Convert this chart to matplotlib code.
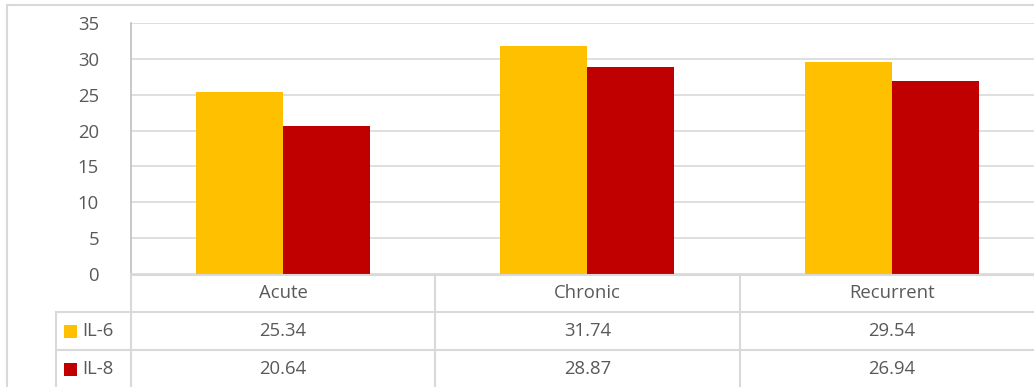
import matplotlib.pyplot as plt
from matplotlib.lines import Line2D
from matplotlib.patches import Rectangle
import numpy as np

plt.rcParams['font.family'] = ['Open Sans', 'DejaVu Sans']

categories = ["Acute", "Chronic", "Recurrent"]
series_names = ["IL-6", "IL-8"]
il6 = [25.34, 31.74, 29.54]
il8 = [20.64, 28.87, 26.94]
colors = ["#FFC000", "#C00000"]

W, H = 1034, 387
fig = plt.figure(figsize=(W / 100, H / 100), dpi=100)

# plot area in pixels (extends past the right edge like the original sheet crop)
px_left, px_top, px_bottom = 131, 23, 274
cat_w = 304.3
px_right = px_left + 3 * cat_w
ax = fig.add_axes([px_left / W, 1 - px_bottom / H,
                   (px_right - px_left) / W, (px_bottom - px_top) / H])

grid_c = "#d9d9d9"
text_c = "#595959"
fs = 13.3

x = np.arange(len(categories))
bw = 87 / cat_w
ax.bar(x - bw / 2, il6, bw, color=colors[0], zorder=3)
ax.bar(x + bw / 2, il8, bw, color=colors[1], zorder=3)

ax.set_xlim(-0.5, len(categories) - 0.5)
ax.set_ylim(0, 35)
ax.set_yticks(range(0, 36, 5))
ax.yaxis.grid(True, color=grid_c, linewidth=1.2, zorder=0)
ax.set_xticks([])
ax.tick_params(axis='y', length=0, pad=23, labelsize=fs, labelcolor=text_c)
for s in ["top", "right", "bottom"]:
    ax.spines[s].set_visible(False)
ax.spines["left"].set_color("#bfbfbf")
ax.spines["left"].set_linewidth(1.2)


def fx(px):
    return px / W


def fy(py):
    return 1 - py / H


def hline(py, x0, x1):
    fig.add_artist(Line2D([fx(x0), fx(x1)], [fy(py), fy(py)], color=grid_c, lw=1.5))


def vline(px, y0, y1):
    fig.add_artist(Line2D([fx(px), fx(px)], [fy(y0), fy(y1)], color=grid_c, lw=1.5))


# outer chart border
fig.add_artist(Rectangle((fx(7), -0.1), 2, fy(5) + 0.1, fill=False,
                         edgecolor=grid_c, lw=1.5))

# data table under the plot
row_h = 38
rows_y = [px_bottom, px_bottom + row_h, px_bottom + 2 * row_h]
hline(px_bottom + 1, px_left, W)
hline(rows_y[1], 56, W)
hline(rows_y[2], 56, W)
vline(56, rows_y[1], H + 5)
for i in range(len(categories)):
    vline(px_left + i * cat_w, px_bottom, H + 5)

for i, cat in enumerate(categories):
    cx = px_left + (i + 0.5) * cat_w
    fig.text(fx(cx), fy(px_bottom + row_h / 2), cat, ha='center', va='center',
             fontsize=fs, color=text_c)
    for r, vals in enumerate([il6, il8]):
        fig.text(fx(cx), fy(rows_y[r + 1] + row_h / 2), f"{vals[i]:.2f}",
                 ha='center', va='center', fontsize=fs, color=text_c)

for r, name in enumerate(series_names):
    cy = rows_y[r + 1] + row_h / 2
    fig.add_artist(Rectangle((fx(64), fy(cy + 6.5)), 13 / W, 13 / H,
                             color=colors[r], lw=0))
    fig.text(fx(82), fy(cy), name, ha='left', va='center', fontsize=fs, color=text_c)

fig.savefig("out.png", dpi=100)
